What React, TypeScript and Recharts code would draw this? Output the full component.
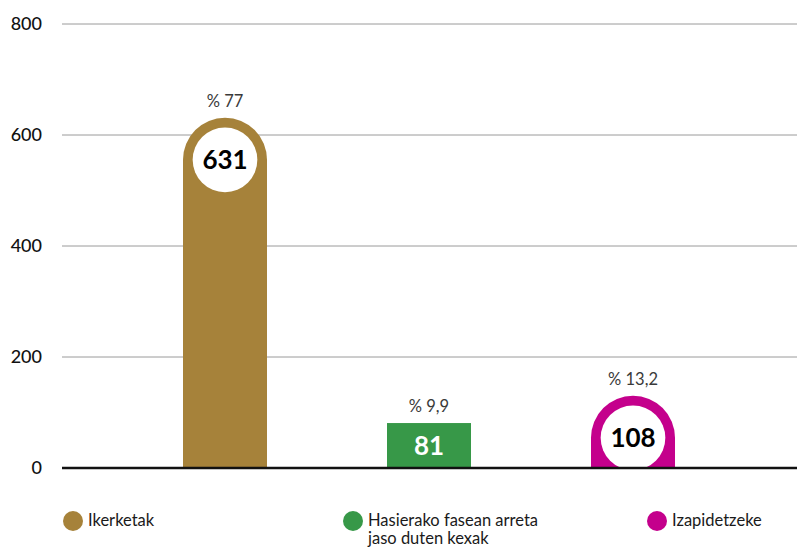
import React from 'react';
import { BarChart, Bar, XAxis, YAxis, CartesianGrid, ReferenceLine, Cell } from 'recharts';

const categories = ['Ikerketak', 'Hasierako fasean arreta jaso duten kexak', 'Izapidetzeke'];
const legendLines = [['Ikerketak'], ['Hasierako fasean arreta', 'jaso duten kexak'], ['Izapidetzeke']];
const values = [631, 81, 108];
const percentLabels = ['% 77', '% 9,9', '% 13,2'];
const yTicks = [0, 200, 400, 600, 800];

const COLORS = ['#A6823A', '#379848', '#C4008C'];
const ROUNDED = [true, false, true];
const FONT = 'Lato, "Open Sans", sans-serif';

const data = categories.map((c, i) => ({ name: c, value: values[i], pct: percentLabels[i], idx: i }));

function BarShape(props: any) {
  const { x, y, width, height, payload } = props;
  const i = payload.idx;
  const color = COLORS[i];
  const cx = x + width / 2;
  const bottom = y + height;
  if (!ROUNDED[i]) {
    return (
      <g>
        <rect x={x} y={y} width={width} height={height} fill={color} />
        <text x={cx} y={y - 11} textAnchor="middle" fontFamily={FONT} fontSize={16.5} fontWeight={400} fill="#3a3a3a">{payload.pct}</text>
        <text x={cx} y={y + height / 2 + 9} textAnchor="middle" fontFamily={FONT} fontSize={26} fontWeight={700} fill="#fff">{payload.value}</text>
      </g>
    );
  }
  const r = width / 2;
  const h = Math.max(height, r * 1.72);
  const top = bottom - h;
  const d = `M${x},${bottom} L${x},${top + r} A${r},${r} 0 0 1 ${x + width},${top + r} L${x + width},${bottom} Z`;
  return (
    <g>
      <path d={d} fill={color} />
      <circle cx={cx} cy={top + r} r={r * 0.77} fill="#fff" />
      <text x={cx} y={top - 11} textAnchor="middle" fontFamily={FONT} fontSize={16.5} fontWeight={400} fill="#3a3a3a">{payload.pct}</text>
      <text x={cx} y={top + r + 9} textAnchor="middle" fontFamily={FONT} fontSize={26} fontWeight={700} fill="#000">{payload.value}</text>
    </g>
  );
}

const legendX = [73, 353, 657];

export default function App() {
  return (
    <div style={{ position: 'absolute', left: 0, top: 0, width: 797, height: 547, background: '#fff', overflow: 'hidden' }}>
      <BarChart width={797} height={547} data={data} margin={{ top: 24, right: 0, left: 0, bottom: 79 }}>
        <CartesianGrid vertical={false} stroke="#9a9a9a" strokeWidth={1} />
        <XAxis dataKey="name" hide padding={{ left: 61, right: 62 }} />
        <YAxis
          domain={[0, 800]}
          ticks={yTicks}
          width={62}
          axisLine={false}
          tickLine={false}
          tickSize={0}
          tickMargin={20}
          tick={{ fontFamily: FONT, fontSize: 18, fill: '#111', fontWeight: 500 }}
        />
        <ReferenceLine y={0} stroke="#111" strokeWidth={2.5} />
        <Bar dataKey="value" barSize={84} isAnimationActive={false} shape={<BarShape />}>
          {data.map((d, i) => (
            <Cell key={i} fill={COLORS[i]} />
          ))}
        </Bar>
      </BarChart>
      {legendLines.map((lines, i) => (
        <div key={i} style={{ position: 'absolute', left: legendX[i] - 10, top: 511, display: 'flex', alignItems: 'flex-start', fontFamily: FONT, fontSize: 16.5, color: '#1a1a1a', lineHeight: '18px' }}>
          <div style={{ width: 20, height: 20, borderRadius: '50%', background: COLORS[i], marginRight: 5, flexShrink: 0 }} />
          <div>
            {lines.map((l, j) => (
              <div key={j} style={{ whiteSpace: 'nowrap' }}>{l}</div>
            ))}
          </div>
        </div>
      ))}
    </div>
  );
}
